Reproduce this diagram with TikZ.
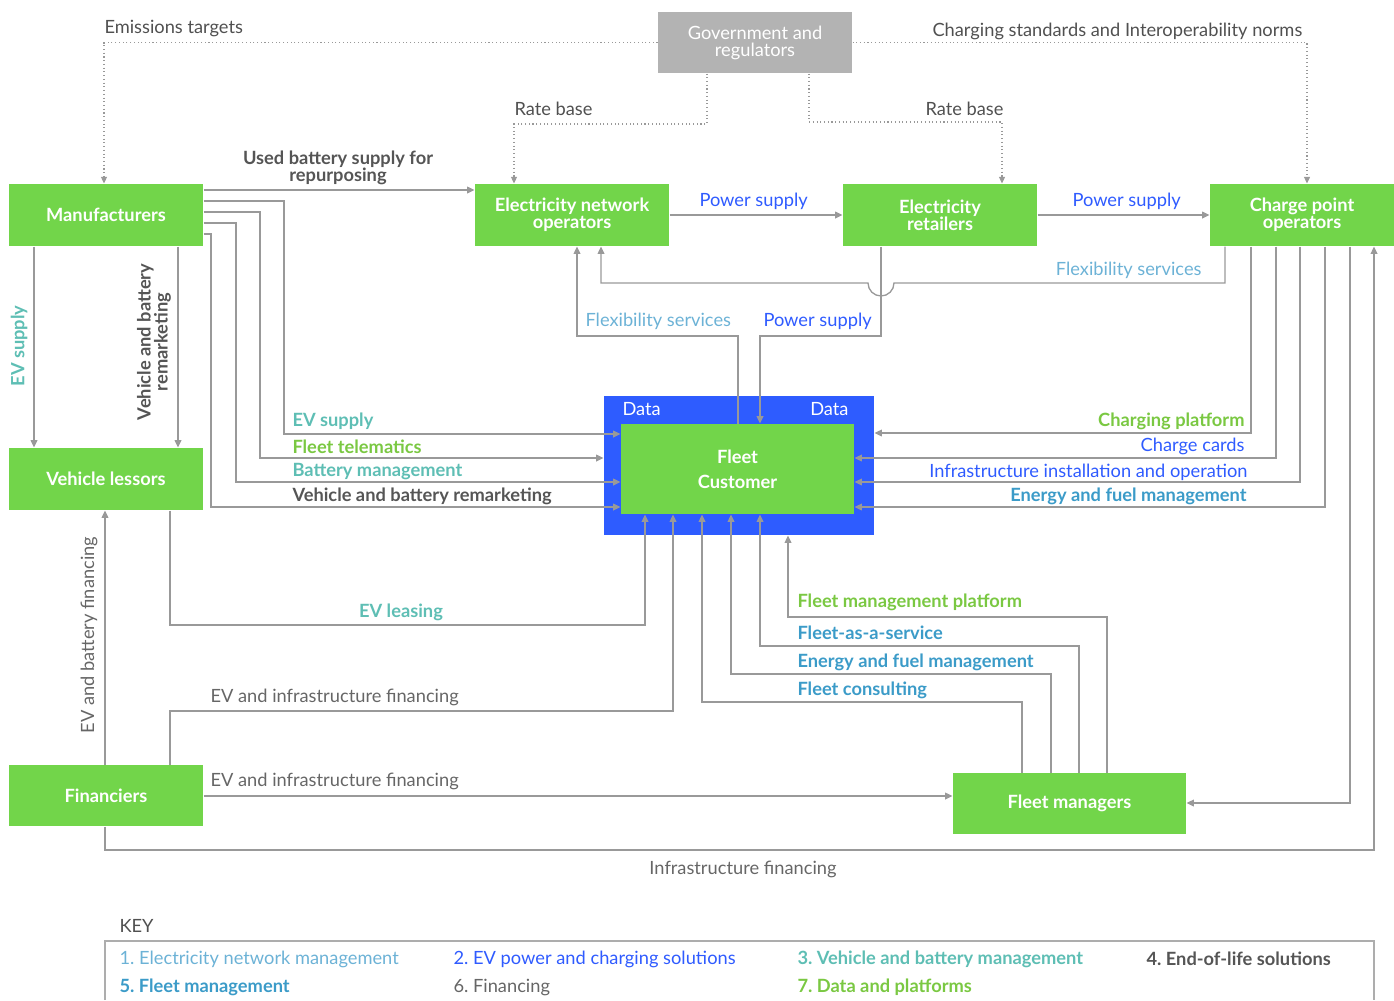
\documentclass[tikz,border=0pt]{standalone}
\usepackage{fontspec}
\setmainfont{Lato}
\usetikzlibrary{arrows.meta}

\definecolor{boxgreen}{RGB}{114,213,74}
\definecolor{fleetblue}{RGB}{46,92,255}
\definecolor{govgray}{RGB}{179,179,179}
\definecolor{linegray}{RGB}{153,153,153}
\definecolor{txtgray}{RGB}{80,80,80}
\definecolor{cENM}{RGB}{108,178,214}
\definecolor{cEVP}{RGB}{47,91,255}
\definecolor{cVBM}{RGB}{94,190,180}
\definecolor{cEOL}{RGB}{85,85,85}
\definecolor{cFM}{RGB}{59,155,200}
\definecolor{cFIN}{RGB}{102,102,102}
\definecolor{cDATA}{RGB}{122,200,66}

\newcommand{\lab}{\fontsize{13.7}{12.75}\selectfont}

\tikzset{every picture/.style={line width=0.75pt}}
\tikzset{
  box/.style 2 args={inner sep=0pt, minimum width=#1*0.75pt, minimum height=#2*0.75pt, align=center},
  greenbox/.style={fill=boxgreen, text=white, font=\lab\bfseries},
  lbl/.style={inner sep=0pt, font=\lab},
  flow/.style={draw=linegray, line width=1pt},
  arr/.style={flow, -{Triangle[length=5.5pt,width=5pt]}},
  reg/.style={draw=linegray, dotted, line width=0.8pt, -{Triangle[length=5pt,width=4.5pt]}},
}

\begin{document}
\begin{tikzpicture}[x=0.75pt,y=0.75pt,yscale=-1,xscale=1]
\useasboundingbox (0,0) rectangle (1394,1000);

%Boxes
\node[box={194}{61}, fill=govgray, text=white, font=\lab, align=center] (gov) at (755,42.5) {Government and\\regulators};
\node[box={194}{62}, greenbox] (man) at (106,215) {Manufacturers};
\node[box={194}{62}, greenbox] (eno) at (572,215) {Electricity network\\operators};
\node[box={194}{62}, greenbox] (ret) at (940,215) {Electricity\\retailers};
\node[box={184}{62}, greenbox] (cpo) at (1302,215) {Charge point\\operators};
\node[box={194}{62}, greenbox] (les) at (106,479) {Vehicle lessors};
\node[box={194}{61}, greenbox] (fin) at (106,795.5) {Financiers};
\node[box={233}{61}, greenbox] (fm) at (1069.5,803.5) {Fleet managers};
\node[box={270}{139}, fill=fleetblue] (data) at (739,465.5) {};
\node[box={233}{90}, greenbox] (fleet) at (737.5,469) {Fleet\\[6pt]Customer};

%Regulation lines
\draw[reg] (gov.west) -| (man.north -| 104,0);
\draw[reg] (gov.east) -| (cpo.north -| 1307,0);
\draw[reg] (gov.south -| 707,0) |- (514,124) -- (eno.north -| 514,0);
\draw[reg] (gov.south -| 809,0) |- (1002,122) -- (ret.north -| 1002,0);

%Top row
\draw[arr] (man.east |- 0,190) -- (eno.west |- 0,190);
\draw[arr] (eno.east) -- (ret.west);
\draw[arr] (ret.east) -- (cpo.west);
\draw[arr] (cpo.south -| 1225,0) |- (894,283) arc (0:180:13) -- (601,283) -- (eno.south -| 601,0);
\draw[arr] (fleet.north -| 738,0) |- (577,336) -- (eno.south -| 577,0);
\draw[arr] (ret.south -| 881,0) |- (760,336) -- (fleet.north -| 760,0);

%Manufacturers
\draw[arr] (man.east |- 0,201) -| (284,434) -- (fleet.west |- 0,434);
\draw[arr] (man.east |- 0,212) -| (260,458) -- (data.west |- 0,458);
\draw[arr] (man.east |- 0,223) -| (236,482) -- (fleet.west |- 0,482);
\draw[arr] (man.east |- 0,234) -| (211,507) -- (fleet.west |- 0,507);
\draw[arr] (man.south -| 34,0) -- (les.north -| 34,0);
\draw[arr] (man.south -| 178,0) -- (les.north -| 178,0);

%Lessors and financiers
\draw[arr] (les.south -| 170,0) |- (645,625) -- (fleet.south -| 645,0);
\draw[arr] (fin.north -| 105,0) -- (les.south -| 105,0);
\draw[arr] (fin.north -| 170,0) |- (673,711) -- (fleet.south -| 673,0);
\draw[arr] (fin.east |- 0,796) -- (fm.west |- 0,796);
\draw[arr] (fin.south -| 105,0) |- (1374,850) -- (cpo.south -| 1374,0);

%Charge point operators
\draw[arr] (cpo.south -| 1251,0) |- (data.east |- 0,433);
\draw[arr] (cpo.south -| 1276,0) |- (fleet.east |- 0,458);
\draw[arr] (cpo.south -| 1300,0) |- (fleet.east |- 0,482);
\draw[arr] (cpo.south -| 1325,0) |- (fleet.east |- 0,507);
\draw[arr] (cpo.south -| 1350,0) |- (fm.east |- 0,803);

%Fleet managers
\draw[arr] (fm.north -| 1022,0) |- (702,702) -- (fleet.south -| 702,0);
\draw[arr] (fm.north -| 1051,0) |- (731,674) -- (fleet.south -| 731,0);
\draw[arr] (fm.north -| 1079,0) |- (760,646) -- (fleet.south -| 760,0);
\draw[arr] (fm.north -| 1107,0) |- (788,617) -- (data.south -| 788,0);

% Text Node
\node[lbl, anchor=west, text=txtgray] (tEmis) at (104,29) {Emissions targets};
\node[lbl, anchor=west, text=txtgray] (tStd) at (932,31) {Charging standards and Interoperability norms};
\node[lbl, anchor=west, text=txtgray] (tRate1) at (514,109) {Rate base};
\node[lbl, anchor=east, text=txtgray] (tRate2) at (1004,109) {Rate base};
\node[lbl, text=cEOL, font=\lab\bfseries, align=center] (tUsed) at (338,167.5) {Used battery supply for\\repurposing};
\node[lbl, anchor=west, text=cEVP] (tPow1) at (699,201) {Power supply};
\node[lbl, anchor=west, text=cEVP] (tPow2) at (1072,201) {Power supply};
\node[lbl, anchor=east, text=cENM] (tFlex1) at (1202,270) {Flexibility services};
\node[lbl, anchor=west, text=cENM] (tFlex2) at (585,321) {Flexibility services};
\node[lbl, anchor=west, text=cEVP] (tPow3) at (763,321) {Power supply};
\node[lbl, rotate=90, text=cVBM, font=\lab\bfseries] (tEVs1) at (19,346) {EV supply};
\node[lbl, rotate=90, text=cEOL, font=\lab\bfseries, align=center] (tRem1) at (154,342) {Vehicle and battery\\remarketing};
\node[lbl, anchor=west, text=cVBM, font=\lab\bfseries] (tEVs2) at (292,421) {EV supply};
\node[lbl, anchor=west, text=cDATA, font=\lab\bfseries] (tTele) at (292,447) {Fleet telematics};
\node[lbl, anchor=west, text=cVBM, font=\lab\bfseries] (tBatt) at (292,472) {Battery management};
\node[lbl, anchor=west, text=cEOL, font=\lab\bfseries] (tRem2) at (292,496) {Vehicle and battery remarketing};
\node[lbl, anchor=west, text=white] (tData1) at (622,409) {Data};
\node[lbl, anchor=east, text=white] (tData2) at (849,409) {Data};
\node[lbl, anchor=east, text=cDATA, font=\lab\bfseries] (tChg) at (1245,421) {Charging platform};
\node[lbl, anchor=east, text=cEVP] (tCard) at (1245,446) {Charge cards};
\node[lbl, anchor=east, text=cEVP] (tInst) at (1248,472) {Infrastructure installation and operation};
\node[lbl, anchor=east, text=cFM, font=\lab\bfseries] (tEnergy1) at (1247,496) {Energy and fuel management};
\node[lbl, text=cVBM, font=\lab\bfseries] (tLease) at (401,612) {EV leasing};
\node[lbl, rotate=90, text=cFIN] (tBattFin) at (89,635) {EV and battery financing};
\node[lbl, anchor=west, text=cFIN] (tInfFin1) at (210,697) {EV and infrastructure financing};
\node[lbl, anchor=west, text=cFIN] (tInfFin2) at (210,781) {EV and infrastructure financing};
\node[lbl, text=cFIN] (tInfFin3) at (743,869) {Infrastructure financing};
\node[lbl, anchor=west, text=cDATA, font=\lab\bfseries] (tFmp) at (797,602) {Fleet management platform};
\node[lbl, anchor=west, text=cFM, font=\lab\bfseries] (tFaas) at (797,633) {Fleet-as-a-service};
\node[lbl, anchor=west, text=cFM, font=\lab\bfseries] (tEnergy2) at (797,662) {Energy and fuel management};
\node[lbl, anchor=west, text=cFM, font=\lab\bfseries] (tCons) at (797,690) {Fleet consulting};

%Key
\node[lbl, anchor=west, text=txtgray] (key) at (119,926) {KEY};
\draw[draw=linegray!80, line width=1pt] (105,1000) |- (1374,941) -- (1374,1000);
\node[lbl, anchor=west, text=cENM] (k1) at (119,959) {1.\ Electricity network management};
\node[lbl, anchor=west, text=cEVP] (k2) at (453,959) {2.\ EV power and charging solutions};
\node[lbl, anchor=west, text=cVBM, font=\lab\bfseries] (k3) at (797,959) {3.\ Vehicle and battery management};
\node[lbl, anchor=west, text=cEOL, font=\lab\bfseries] (k4) at (1146,959) {4.\ End-of-life solutions};
\node[lbl, anchor=west, text=cFM, font=\lab\bfseries] (k5) at (119,987) {5.\ Fleet management};
\node[lbl, anchor=west, text=cFIN] (k6) at (453,987) {6.\ Financing};
\node[lbl, anchor=west, text=cDATA, font=\lab\bfseries] (k7) at (797,987) {7.\ Data and platforms};

\end{tikzpicture}
\end{document}
